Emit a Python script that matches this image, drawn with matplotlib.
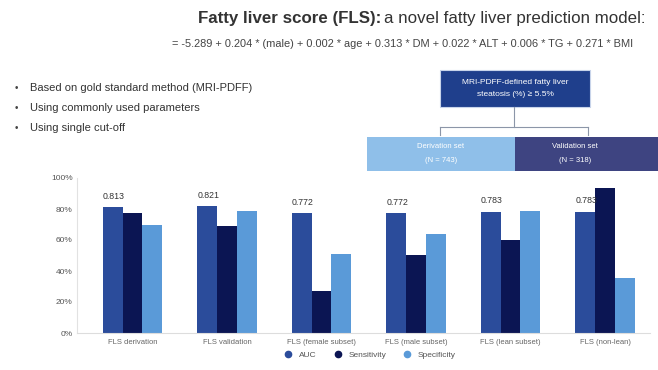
import numpy as np
import matplotlib
matplotlib.use("Agg")
import matplotlib.pyplot as plt
from matplotlib.patches import Rectangle
from matplotlib.lines import Line2D

plt.rcParams['font.family'] = ['Liberation Sans', 'DejaVu Sans']

# data
groups = ["FLS derivation", "FLS validation", "FLS (female subset)",
          "FLS (male subset)", "FLS (lean subset)", "FLS (non-lean)"]
auc = [0.813, 0.821, 0.772, 0.772, 0.783, 0.783]
sensitivity = [0.776, 0.690, 0.271, 0.503, 0.600, 0.937]
specificity = [0.697, 0.789, 0.508, 0.637, 0.787, 0.353]
y_ticks = [0.0, 0.2, 0.4, 0.6, 0.8, 1.0]
y_tick_labels = ["0%", "20%", "40%", "60%", "80%", "100%"]
series_names = ["AUC", "Sensitivity", "Specificity"]

colors = ["#2b4c9b", "#0b1553", "#5a9ad8"]

W, H = 658, 370
fig = plt.figure(figsize=(W / 100, H / 100), dpi=100)


def px_axes(x0, y0, x1, y1):
    # rectangle given in pixel coords (top-left origin)
    return [x0 / W, 1 - y1 / H, (x1 - x0) / W, (y1 - y0) / H]


# ---- overlay for slide decorations ----
deco = fig.add_axes([0, 0, 1, 1])
deco.set_xlim(0, W)
deco.set_ylim(H, 0)
deco.axis('off')

renderer = fig.canvas.get_renderer()
t1 = deco.text(198, 18, "Fatty liver score (FLS):", fontsize=12.2,
               fontweight='bold', color='#333333', va='center', ha='left')
bb = t1.get_window_extent(renderer=renderer)
x_end = bb.x1 * W / (fig.get_figwidth() * fig.dpi)
deco.text(x_end + 3, 18, "a novel fatty liver prediction model:",
          fontsize=12.2, color='#333333', va='center', ha='left')

deco.text(403, 44,
          "= -5.289 + 0.204 * (male) + 0.002 * age + 0.313 * DM + 0.022 * ALT"
          " + 0.006 * TG + 0.271 * BMI",
          fontsize=7.9, color='#444444', ha='center', va='center')

bullets = ["Based on gold standard method (MRI-PDFF)",
           "Using commonly used parameters",
           "Using single cut-off"]
for i, b in enumerate(bullets):
    y = 88 + i * 20
    deco.text(15, y, "\u2022", fontsize=7, color='#444444', va='center')
    deco.text(30, y, b, fontsize=8, color='#333333', va='center')

# flow chart
deco.add_patch(Rectangle((440, 70), 150, 37, facecolor='#1f3f8c',
                         edgecolor='#c8d4ea', lw=0.8))
deco.text(515, 82, "MRI-PDFF-defined fatty liver", fontsize=6, color='white',
          ha='center', va='center')
deco.text(515, 94, "steatosis (%) \u2265 5.5%", fontsize=6, color='white',
          ha='center', va='center')
lc = '#8c96a8'
deco.plot([514, 514], [107, 127], color=lc, lw=0.8)
deco.plot([440, 588], [127, 127], color=lc, lw=0.8)
deco.plot([440, 440], [127, 135], color=lc, lw=0.8)
deco.plot([588, 588], [127, 135], color=lc, lw=0.8)

deco.add_patch(Rectangle((367, 137), 148, 34, facecolor='#8fbfe9',
                         edgecolor='none'))
deco.add_patch(Rectangle((515, 137), 143, 34, facecolor='#3e4481',
                         edgecolor='none'))
deco.text(441, 147, "Derivation set", fontsize=5.5, color='white',
          ha='center', va='center')
deco.text(441, 160, "(N = 743)", fontsize=5.5, color='white',
          ha='center', va='center')
deco.text(575, 147, "Validation set", fontsize=5.5, color='white',
          ha='center', va='center')
deco.text(575, 160, "(N = 318)", fontsize=5.5, color='white',
          ha='center', va='center')

# ---- bar chart ----
ax = fig.add_axes(px_axes(77, 178, 650, 333))
x = np.arange(len(groups))
width = 0.21
series = [auc, sensitivity, specificity]
for k, (vals, c) in enumerate(zip(series, colors)):
    ax.bar(x + (k - 1) * width, vals, width, color=c, label=series_names[k],
           zorder=2)

for xi, v in zip(x, auc):
    ax.text(xi - 1.5 * width, v + 0.04, f"{v:.3f}", fontsize=6.3,
            color='#333333', ha='left', va='bottom')

ax.set_xlim(-0.587, 5.476)
ax.set_ylim(0, 1.0)
ax.set_yticks(y_ticks)
ax.set_yticklabels(y_tick_labels, fontsize=6, color='#555555')
ax.set_xticks(x)
ax.set_xticklabels(groups, fontsize=5.5, color='#666666')
ax.tick_params(length=0, pad=4)
ax.tick_params(axis='y', pad=3)
for s in ['top', 'right']:
    ax.spines[s].set_visible(False)
ax.spines['left'].set_color('#e2e2e2')
ax.spines['bottom'].set_color('#dddddd')
ax.set_facecolor('none')

handles = [Line2D([], [], marker='o', linestyle='none', markersize=4.5,
                  markerfacecolor=c, markeredgecolor=c) for c in colors]
fig.legend(handles, series_names, loc='center', ncol=3, frameon=False,
           bbox_to_anchor=(368 / W, 1 - 355 / H), fontsize=6,
           handletextpad=0.3, columnspacing=1.5, labelcolor='#555555')

fig.savefig("out.png", dpi=100)
